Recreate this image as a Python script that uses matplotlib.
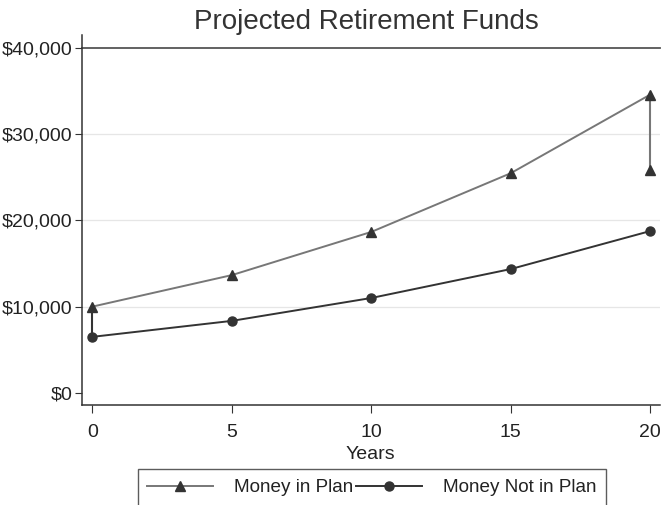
import matplotlib
matplotlib.use('Agg')
from matplotlib import pyplot as plt
from matplotlib.ticker import FuncFormatter

# values
years = [0, 5, 10, 15, 20]
money_in_plan = [10000, 13650, 18650, 25450, 34550]
money_not_in_plan = [6500, 8350, 11000, 14350, 18750]
# second triangle at year 20 (drop after tax)
in_plan_after_tax = 25800
y_ticks = [0, 10000, 20000, 30000, 40000]

plt.rcParams['font.family'] = ['Liberation Sans', 'DejaVu Sans']

fig = plt.figure(figsize=(6.62, 5.05), dpi=100)
ax = fig.add_axes([81.5 / 662, 1 - 405 / 505, (660 - 81.5) / 662, (405 - 35) / 505])

dark = '#333333'
grey = '#777777'

# grid lines + reference line at the top
for t in y_ticks[1:-1]:
    ax.axhline(t, color='#e6e6e6', lw=0.9, zorder=0)
ax.axhline(y_ticks[-1], color='#555555', lw=1.3, zorder=1, clip_on=False)

# spikes at start and end
ax.plot([years[0], years[0]], [money_in_plan[0], money_not_in_plan[0]],
        color=dark, lw=1.5, zorder=2)
ax.plot([years[-1], years[-1]], [money_in_plan[-1], in_plan_after_tax],
        color=grey, lw=1.5, zorder=2)
ax.plot([years[-1]], [in_plan_after_tax], '^', color=dark, ms=7.5, zorder=3)

ax.plot(years, money_in_plan, color=grey, lw=1.4, marker='^', ms=7.5,
        mfc=dark, mec=dark, label='Money in Plan', zorder=3)
ax.plot(years, money_not_in_plan, color=dark, lw=1.4, marker='o', ms=6.5,
        mfc=dark, mec=dark, label='Money Not in Plan', zorder=3)

ax.set_xlim(-0.39, 20.35)
ax.set_ylim(-1390, 41450)
ax.set_xticks(years)
ax.set_yticks(y_ticks)
ax.yaxis.set_major_formatter(FuncFormatter(lambda v, p: '${:,.0f}'.format(v)))
ax.tick_params(axis='both', labelsize=14, length=5, color=dark, labelcolor='#222222')
ax.tick_params(axis='y', pad=1.5)
ax.tick_params(axis='x', length=6, pad=8)

for s in ['top', 'right']:
    ax.spines[s].set_visible(False)
for s in ['left', 'bottom']:
    ax.spines[s].set_color(dark)
    ax.spines[s].set_linewidth(1.1)

ax.set_xlabel('Years', fontsize=14, color='#222222', labelpad=3)
fig.text(366 / 662, 1 - 22 / 505, 'Projected Retirement Funds', fontsize=20,
         ha='center', va='center', color='#333333')

leg = fig.legend(loc='center', bbox_to_anchor=(372 / 662, 1 - 487.5 / 505), ncol=2,
                 fontsize=13.6, handlelength=3.5, handletextpad=1.1,
                 columnspacing=0.15, fancybox=False, frameon=True,
                 borderpad=0.5, borderaxespad=0)
leg.get_frame().set_edgecolor(dark)
leg.get_frame().set_linewidth(1.0)
for t in leg.get_texts():
    t.set_color('#222222')

plt.savefig('out.png', dpi=100)
